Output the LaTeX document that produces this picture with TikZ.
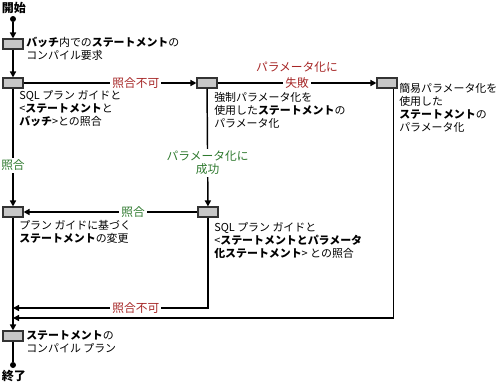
\documentclass[tikz,border=0pt]{standalone}
\usepackage{fontspec}
\setmainfont{Noto Sans CJK JP}
\usepackage{tikz}
\usetikzlibrary{arrows.meta,positioning,calc}
\definecolor{failred}{RGB}{166,38,38}
\definecolor{okgreen}{RGB}{47,122,47}
\newcommand{\term}[1]{\textbf{#1}}

\begin{document}
\begin{tikzpicture}[
  x=0.75pt, y=-0.75pt,
  stepbox/.style={draw=black!80, fill=black!22, line width=0.8pt, minimum width=15pt, minimum height=7.5pt, inner sep=0pt},
  desc/.style={align=left, anchor=north west, inner sep=0pt, font=\fontsize{8.2pt}{9.8pt}\selectfont},
  endpt/.style={circle, fill=black, inner sep=0pt, minimum size=4.5pt},
  endtext/.style={font=\fontsize{9pt}{10pt}\selectfont\bfseries, inner sep=0pt},
  arr/.style={-{Triangle[length=4.5pt,width=4.5pt]}, line width=1.1pt},
  flow/.style={line width=1.1pt},
  faillabel/.style={fill=white, text=failred, align=center, inner sep=1.5pt, font=\fontsize{8.8pt}{9.8pt}\selectfont},
  oklabel/.style={fill=white, text=okgreen, align=center, inner sep=1.5pt, font=\fontsize{8.8pt}{9.8pt}\selectfont}
]
\useasboundingbox (0,0) rectangle (497,383);

\node[endtext] (start) at (14,8) {開始};
\node[endpt] (S) at (13,19) {};
\node[stepbox] (B1) at (13,44) {};
\node[desc] (T1) at (26,37) {\term{バッチ}内での\term{ステートメント}の\\コンパイル要求};
\node[stepbox] (B2) at (13,83) {};
\node[desc] (T2) at (19,90) {SQL プラン ガイドと\\<\term{ステートメント}と\\\term{バッチ}>との照合};
\node[stepbox] (B3) at (207,83) {};
\node[desc] (T3) at (214,92) {強制パラメータ化を\\使用した\term{ステートメント}の\\パラメータ化};
\node[stepbox] (B4) at (387,83) {};
\node[desc] (T4) at (399,83) {簡易パラメータ化を\\使用した\\\term{ステートメント}の\\パラメータ化};
\node[stepbox] (B5) at (13,212) {};
\node[desc] (T5) at (19,220) {プラン ガイドに基づく\\\term{ステートメント}の変更};
\node[stepbox] (B6) at (208,212) {};
\node[desc] (T6) at (214,222) {SQL プラン ガイドと\\<\term{ステートメントとパラメータ}\\\term{化ステートメント}> との照合};
\node[stepbox] (B7) at (13,336) {};
\node[desc] (T7) at (26,330) {\term{ステートメント}の\\コンパイル プラン};
\node[endpt] (E) at (13,365) {};
\node[endtext] (finish) at (14,376) {終了};

\coordinate (J1) at (13,308);
\coordinate (J2) at (13,318);

\draw[arr] (S)--(B1);
\draw[arr] (B1)--(B2);
\draw[arr] (B2)--node[faillabel, pos=0.65]{照合不可}(B3);
\draw[arr] (B3)--node[faillabel, pos=0.5] (F1){失敗}(B4);
\node[text=failred, inner sep=0pt, font=\fontsize{8.8pt}{9.8pt}\selectfont, above=1.5pt of F1] {パラメータ化に};
\draw[arr] (B2)--node[oklabel, pos=0.65]{照合}(B5);
\draw[arr] (B3)--node[oklabel, pos=0.63]{パラメータ化に\\成功}(B6);
\draw[arr] (B6)--node[oklabel, pos=0.37]{照合}(B5);
\draw[arr] (B6.south)|-node[faillabel, pos=0.685]{照合不可}(J1);
\draw[arr] ($(B4.south east)+(-4,0)$)|-(J2);
\draw[arr] (B5)--(B7);
\draw[flow] (B7)--(E);
\end{tikzpicture}
\end{document}
